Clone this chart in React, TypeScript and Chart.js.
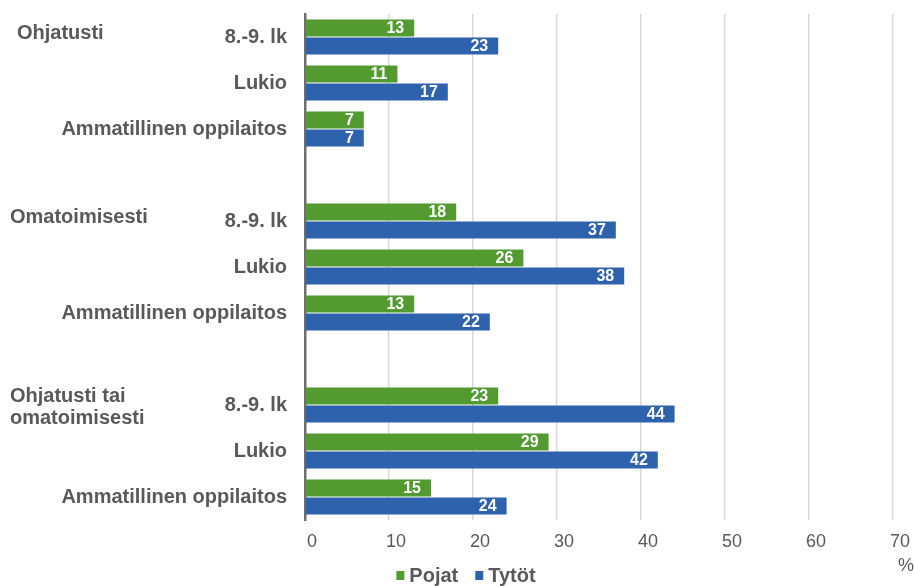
import React, { useEffect, useRef } from "react";
import { Chart, registerables } from "chart.js";
Chart.register(...registerables);

const categories = [
  "8.-9. lk", "Lukio", "Ammatillinen oppilaitos", "",
  "8.-9. lk", "Lukio", "Ammatillinen oppilaitos", "",
  "8.-9. lk", "Lukio", "Ammatillinen oppilaitos",
];
const groupNames = [["Ohjatusti"], ["Omatoimisesti"], ["Ohjatusti tai", "omatoimisesti"]];
const groupStart = [0, 4, 8];
const seriesNames = ["Pojat", "Tytöt"];
const pojat = [13, 11, 7, null, 18, 26, 13, null, 23, 29, 15];
const tytot = [23, 17, 7, null, 37, 38, 22, null, 44, 42, 24];
const xMin = 0;
const xMax = 70;
const xStep = 10;
const unitLabel = "%";

const GREEN = "#539B31";
const BLUE = "#2F62AD";
const TEXT = "#595959";
const FONT = "'Liberation Sans', Arial, sans-serif";

export default function App() {
  const ref = useRef<HTMLCanvasElement | null>(null);
  useEffect(() => {
    if (!ref.current) return;
    const overlay = {
      id: "overlay",
      afterDatasetsDraw(chart: any) {
        const ctx = chart.ctx;
        const xs = chart.scales.x;
        const ys = chart.scales.y;
        ctx.save();
        // data labels
        ctx.font = `bold 16px ${FONT}`;
        ctx.fillStyle = "#ffffff";
        ctx.textAlign = "right";
        ctx.textBaseline = "middle";
        chart.data.datasets.forEach((ds: any, di: number) => {
          const meta = chart.getDatasetMeta(di);
          meta.data.forEach((bar: any, i: number) => {
            const v = ds.data[i];
            if (v === null || v === undefined) return;
            ctx.fillText(String(v), bar.x - 10, bar.y + 1);
          });
        });
        // group labels
        ctx.fillStyle = TEXT;
        ctx.textAlign = "left";
        ctx.font = `bold 20px ${FONT}`;
        const offs = [{ x: 17, y: -4 }, { x: 10, y: -3.5 }, { x: 10, y: 2 }];
        groupNames.forEach((lines, g) => {
          const yc = ys.getPixelForValue(groupStart[g]) + offs[g].y;
          const lh = 22;
          const y0 = yc - ((lines.length - 1) * lh) / 2;
          lines.forEach((t, k) => ctx.fillText(t, offs[g].x, y0 + k * lh));
        });
        // unit label
        ctx.font = `18px ${FONT}`;
        ctx.textAlign = "center";
        ctx.fillText(unitLabel, xs.right + 13, 566);
        // legend
        ctx.font = `bold 20px ${FONT}`;
        ctx.textAlign = "left";
        const colors = [GREEN, BLUE];
        const widths = seriesNames.map((n) => 8 + 5 + ctx.measureText(n).width);
        const gap = 17;
        const total = widths.reduce((a, b) => a + b, 0) + gap * (widths.length - 1);
        let x = 466 - total / 2;
        const ly = 575.5;
        seriesNames.forEach((n, i) => {
          ctx.fillStyle = colors[i];
          ctx.fillRect(x, ly - 4.5, 8, 9);
          ctx.fillStyle = TEXT;
          ctx.fillText(n, x + 13, ly + 1);
          x += widths[i] + gap;
        });
        ctx.restore();
      },
    };
    const chart = new Chart(ref.current, {
      type: "bar",
      data: {
        labels: categories,
        datasets: [
          { label: seriesNames[0], data: pojat, backgroundColor: GREEN, categoryPercentage: 0.78, barPercentage: 0.95 },
          { label: seriesNames[1], data: tytot, backgroundColor: BLUE, categoryPercentage: 0.78, barPercentage: 0.95 },
        ],
      },
      options: {
        indexAxis: "y",
        animation: false,
        responsive: false,
        maintainAspectRatio: false,
        layout: { padding: { top: 14, right: 22, left: 0, bottom: 0 } },
        plugins: { legend: { display: false }, tooltip: { enabled: false } },
        scales: {
          x: {
            min: xMin,
            max: xMax,
            afterFit: (s: any) => { s.height = 66; s.paddingLeft = 0; s.paddingRight = 0; },
            ticks: { stepSize: xStep, color: TEXT, font: { family: FONT, size: 18 }, padding: 11, labelOffset: 7 },
            grid: { color: "#d9d9d9", lineWidth: 1.5, drawTicks: false },
            border: { display: false },
          },
          y: {
            afterFit: (s: any) => { s.width = 305; s.paddingTop = 0; s.paddingBottom = 0; },
            ticks: { color: TEXT, font: { family: FONT, size: 20, weight: "bold" }, padding: 18, autoSkip: false },
            grid: { display: false, drawTicks: false },
            border: { display: true, color: "#6f6f6f", width: 2.5 },
          },
        },
      } as any,
      plugins: [overlay],
    });
    return () => chart.destroy();
  }, []);
  return (
    <div style={{ position: "fixed", left: 0, top: 0, width: 915, height: 586, background: "#fff" }}>
      <canvas ref={ref} width={915} height={586} style={{ width: 915, height: 586, display: "block" }} />
    </div>
  );
}
